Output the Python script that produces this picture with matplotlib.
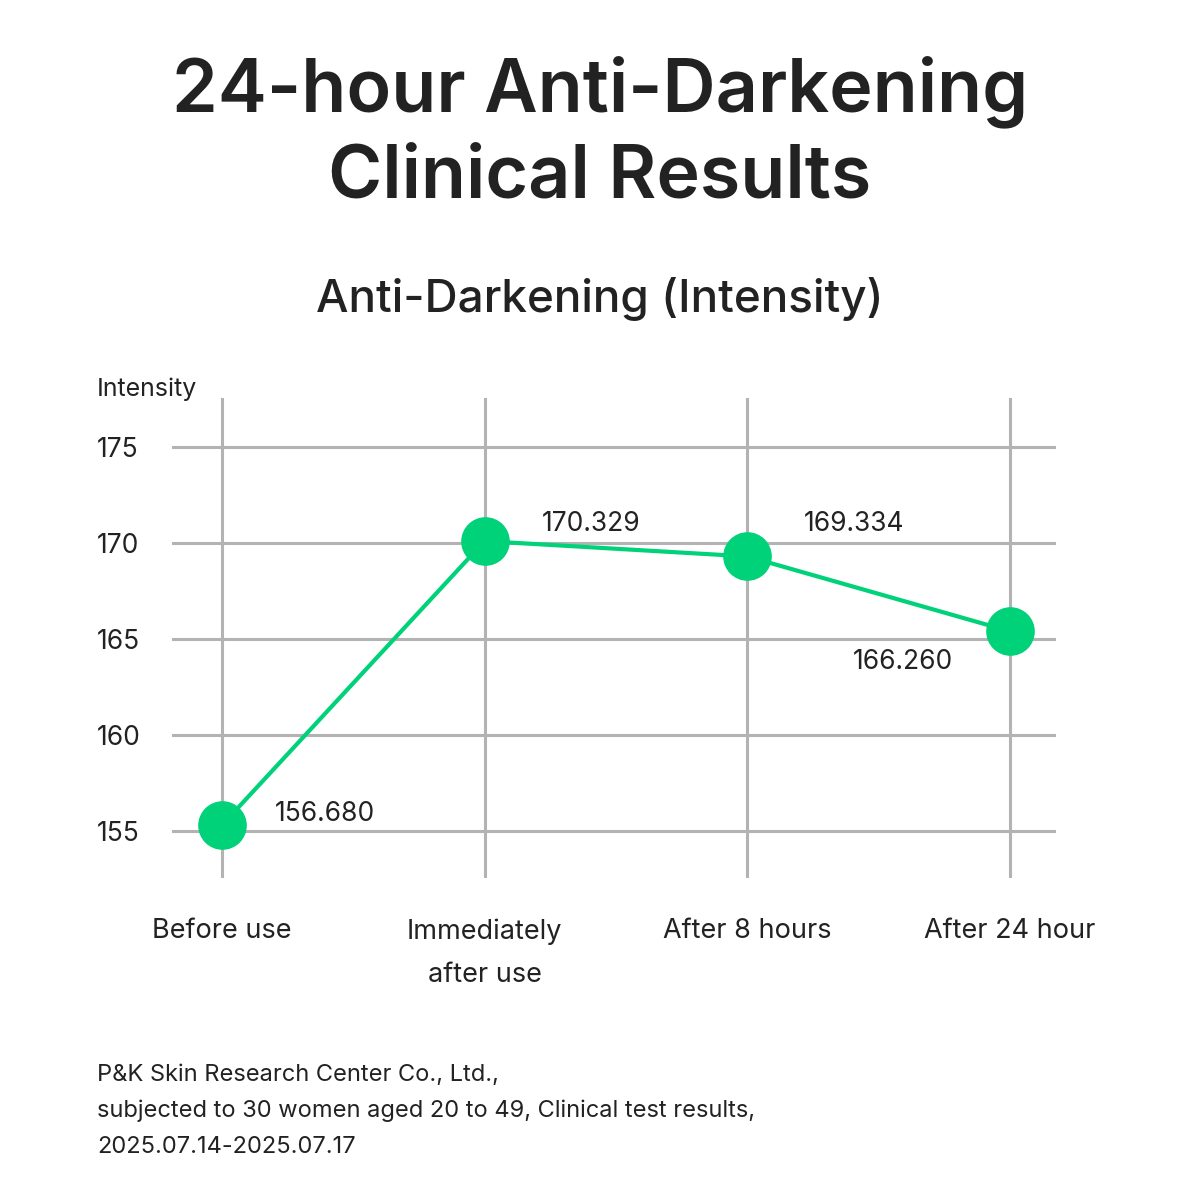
import matplotlib
matplotlib.use("Agg")
import matplotlib.pyplot as plt

plt.rcParams['font.family'] = ['Inter', 'DejaVu Sans']

# data
stages = ["Before use", "Immediately\nafter use", "After 8 hours", "After 24 hour"]
intensity = [155.3, 170.1, 169.3, 165.4]          # marker positions as drawn
value_labels = ["156.680", "170.329", "169.334", "166.260"]
yticks = [155, 160, 165, 170, 175]

# label offsets (points) relative to each marker
offsets = [(74, 8), (77, 12), (77, 23), (-77, -22)]

text_col = "#222222"
green = "#00d27a"
grid_col = "#b3b3b3"

fig = plt.figure(figsize=(12, 12), dpi=100)
fig.patch.set_facecolor("white")

# titles
fig.text(0.5, 1 - 92 / 1200, "24-hour Anti-Darkening", ha="center", va="center",
         fontsize=53, fontweight="semibold", color=text_col)
fig.text(0.5, 1 - 178 / 1200, "Clinical Results", ha="center", va="center",
         fontsize=53, fontweight="semibold", color=text_col)
fig.text(0.5, 1 - 299 / 1200, "Anti-Darkening (Intensity)", ha="center", va="center",
         fontsize=33, fontweight="medium", color=text_col)

ax = fig.add_axes([0.1433, 0.2683, 0.7367, 0.4])
x = list(range(len(stages)))

ax.plot(x, intensity, color=green, lw=3, zorder=3)
ax.plot(x, intensity, "o", color=green, ms=34, zorder=4)

for xi, yi, lab, off in zip(x, intensity, value_labels, offsets):
    ax.annotate(lab, (xi, yi), xytext=off, textcoords="offset points",
                ha="center", va="center", fontsize=19, color=text_col)

ax.set_xlim(-0.19, 3.175)
ax.set_ylim(152.55, 177.55)
ax.set_yticks(yticks)
ax.set_xticks(x)
ax.set_xticklabels(stages, fontsize=19.5, color=text_col, linespacing=1.85)
ax.set_yticklabels([str(v) for v in yticks], fontsize=19, color=text_col)
for t in ax.get_yticklabels():
    t.set_horizontalalignment("left")
ax.tick_params(axis="y", length=0, pad=54)
ax.tick_params(axis="x", length=0, pad=29)
ax.grid(True, color=grid_col, lw=2.2)
ax.set_axisbelow(True)
for s in ax.spines.values():
    s.set_visible(False)

fig.text(97 / 1200, 1 - 389 / 1200, "Intensity", ha="left", va="center",
         fontsize=18, color=text_col)

footer = ["P&K Skin Research Center Co., Ltd.,",
          "subjected to 30 women aged 20 to 49, Clinical test results,",
          "2025.07.14-2025.07.17"]
for i, line in enumerate(footer):
    fig.text(97 / 1200, 1 - (1075 + 36 * i) / 1200, line, ha="left", va="center",
             fontsize=17, color=text_col)

fig.savefig("out.png", dpi=100)
